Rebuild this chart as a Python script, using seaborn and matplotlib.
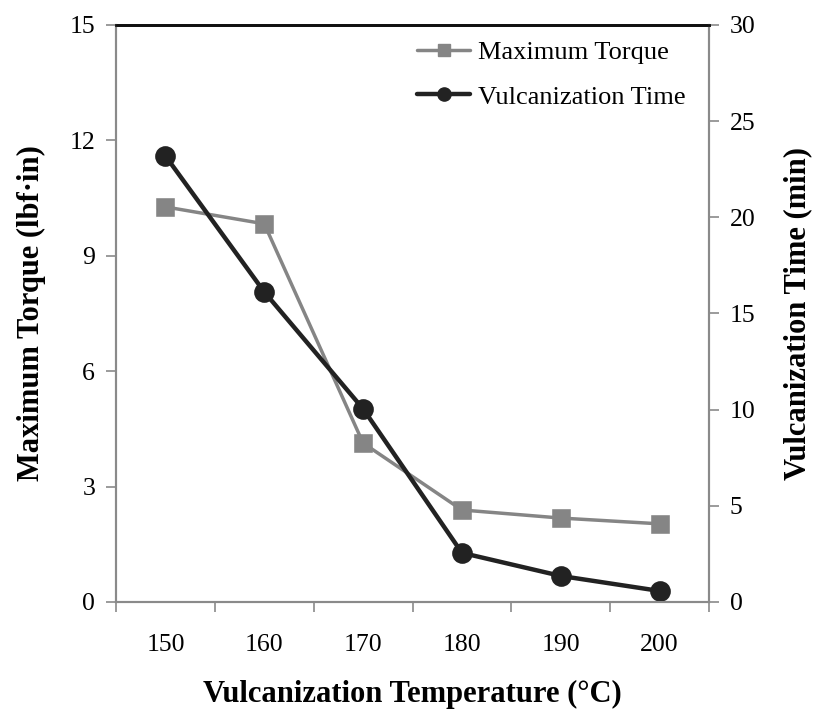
import matplotlib
matplotlib.use("Agg")
import matplotlib.pyplot as plt
from matplotlib.lines import Line2D
import seaborn as sns
import pandas as pd

temperatures = ["150", "160", "170", "180", "190", "200"]
max_torque = [10.27, 9.83, 4.13, 2.39, 2.18, 2.03]
vulc_time = [23.19, 16.12, 10.04, 2.55, 1.35, 0.57]
left_ticks = [0, 3, 6, 9, 12, 15]
right_ticks = [0, 5, 10, 15, 20, 25, 30]

sns.set_theme(style="white")
plt.rcParams["font.family"] = ["Liberation Serif", "DejaVu Serif"]
plt.rcParams["text.color"] = "black"
plt.rcParams["axes.labelcolor"] = "black"
plt.rcParams["xtick.labelcolor"] = "black"
plt.rcParams["ytick.labelcolor"] = "black"

df = pd.DataFrame({"temp": temperatures, "torque": max_torque, "time": vulc_time})

torque_color = "#858585"
time_color = "#222222"
spine_color = "#8a8a8a"

fig = plt.figure(figsize=(8.13, 7.14), dpi=100)
ax = fig.add_axes([0.1427, 0.157, 0.7294, 0.808])
ax2 = ax.twinx()

sns.pointplot(data=df, x="temp", y="torque", order=temperatures, ax=ax,
              color=torque_color, markers="s", linestyles="-",
              markersize=11.5, linewidth=2.5, errorbar=None)
sns.pointplot(data=df, x="temp", y="time", order=temperatures, ax=ax2,
              color=time_color, markers="o", linestyles="-",
              markersize=12.5, linewidth=3.2, errorbar=None)

n = len(temperatures)
for a in (ax, ax2):
    a.set_xlim(-0.5, n - 0.5)
    a.set_facecolor("none")

ax.set_ylim(0, 15)
ax.set_yticks(left_ticks)
ax.set_yticklabels([str(t) for t in left_ticks])
ax2.set_ylim(0, 30)
ax2.set_yticks(right_ticks)
ax2.set_yticklabels([str(t) for t in right_ticks])

# x ticks: marks at category boundaries, labels at category centres
ax.set_xticks([i - 0.5 for i in range(n + 1)])
ax.set_xticklabels([])
ax.set_xticks(range(n), minor=True)
ax.set_xticklabels(temperatures, minor=True)
ax.tick_params(axis="x", which="major", direction="out", length=7, width=1.2,
               color=spine_color, bottom=True)
ax.tick_params(axis="x", which="minor", length=0, pad=23, labelsize=18.5,
               labelcolor="black")
ax.tick_params(axis="y", direction="out", length=7, width=1.2, color=spine_color,
               left=True, labelsize=18.5, pad=8, labelcolor="black")
ax2.tick_params(axis="y", direction="out", length=7, width=1.2, color=spine_color,
                right=True, labelsize=18.5, pad=8, labelcolor="black")

for a in (ax, ax2):
    for side in ("left", "right", "bottom"):
        a.spines[side].set_color(spine_color)
        a.spines[side].set_linewidth(1.5)
    a.spines["top"].set_color("#111111")
    a.spines["top"].set_linewidth(2.0)

ax.set_xlabel("Vulcanization Temperature (°C)", fontsize=22, fontweight="bold",
              labelpad=17, color="black")
ax.set_ylabel("Maximum Torque (lbf·in)", fontsize=22, fontweight="bold",
              labelpad=17, color="black")
ax2.set_ylabel("Vulcanization Time (min)", fontsize=22, fontweight="bold",
               labelpad=20, color="black")

handles = [
    Line2D([], [], color=torque_color, marker="s", markersize=9, linewidth=2.5),
    Line2D([], [], color=time_color, marker="o", markersize=9.5, linewidth=3.2),
]
leg = ax2.legend(handles, ["Maximum Torque", "Vulcanization Time"], loc="upper left",
                 bbox_to_anchor=(0.508, 0.973), frameon=False, fontsize=19,
                 handlelength=2.0, handletextpad=0.3, labelspacing=0.8,
                 borderaxespad=0, borderpad=0)
for t in leg.get_texts():
    t.set_color("black")

fig.savefig("out.png", dpi=100)
